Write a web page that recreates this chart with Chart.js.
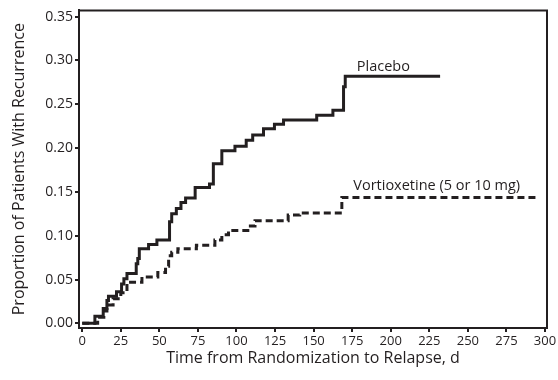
<!DOCTYPE html>
<html>
<head>
<meta charset="utf-8">
<script src="https://cdn.jsdelivr.net/npm/chart.js@4.4.0/dist/chart.umd.min.js"></script>
<style>
html, body { margin: 0; padding: 0; background: #fff; }
</style>
</head>
<body>
<canvas id="kmChart" width="558" height="380"></canvas>
<script>
// cumulative proportion with recurrence
var placeboDays = [0, 8.2, 13.6, 16, 17, 22.2, 25.5, 27, 29, 35, 36, 37, 43, 48.4, 56.6, 58, 61, 64, 67, 73.2, 82.5, 85, 90.5, 99, 106.3, 110.5, 117.5, 124.6, 130.5, 152, 162.5, 169.4, 170.5, 232];
var placeboRate = [0, 0.008, 0.017, 0.026, 0.031, 0.036, 0.045, 0.051, 0.057, 0.068, 0.074, 0.085, 0.09, 0.095, 0.116, 0.125, 0.131, 0.138, 0.143, 0.155, 0.159, 0.182, 0.197, 0.202, 0.209, 0.215, 0.222, 0.227, 0.232, 0.2375, 0.243, 0.27, 0.282, 0.282];

var vortioxetineDays = [0, 10, 14, 16, 20, 25, 29, 38.7, 49, 54, 56, 58, 62, 74, 86, 90.5, 94.8, 109, 112, 133.5, 141, 168.3, 295];
var vortioxetineRate = [0, 0.007, 0.014, 0.021, 0.028, 0.035, 0.047, 0.053, 0.058, 0.065, 0.077, 0.081, 0.085, 0.089, 0.095, 0.101, 0.106, 0.111, 0.117, 0.1235, 0.126, 0.1435, 0.1435];

var xTickValues = [0, 25, 50, 75, 100, 125, 150, 175, 200, 225, 250, 275, 300];
var yTickValues = [0, 0.05, 0.10, 0.15, 0.20, 0.25, 0.30, 0.35];

var placeboName = 'Placebo';
var vortioxetineName = 'Vortioxetine (5 or 10 mg)';

var inkColor = '#231f20';
var fontFamily = "'Open Sans', 'Noto Sans', sans-serif";

function toPoints(xs, ys) {
    return xs.map(function (x, i) { return { x: x, y: ys[i] }; });
}

// line labels placed in data coordinates, plus the top/right frame
var curveLabels = {
    id: 'curveLabels',
    afterDatasetsDraw: function (chart) {
        var ctx = chart.ctx;
        var xs = chart.scales.x, ys = chart.scales.y;
        ctx.save();
        ctx.fillStyle = inkColor;
        ctx.font = '14.5px ' + fontFamily;
        ctx.textAlign = 'left';
        ctx.textBaseline = 'alphabetic';
        ctx.fillText(placeboName, xs.getPixelForValue(178), ys.getPixelForValue(0.288));
        ctx.fillText(vortioxetineName, xs.getPixelForValue(175.7), ys.getPixelForValue(0.152));

        var a = chart.chartArea;
        ctx.strokeStyle = inkColor;
        ctx.lineWidth = 2;
        ctx.beginPath();
        ctx.moveTo(a.left, a.top);
        ctx.lineTo(a.right, a.top);
        ctx.lineTo(a.right, a.bottom);
        ctx.stroke();
        ctx.restore();
    }
};

var kmChart = new Chart(document.getElementById('kmChart'), {
    type: 'line',
    data: {
        datasets: [
            {
                label: placeboName,
                data: toPoints(placeboDays, placeboRate),
                borderColor: inkColor,
                borderWidth: 3,
                stepped: true,
                pointRadius: 0,
                fill: false
            },
            {
                label: vortioxetineName,
                data: toPoints(vortioxetineDays, vortioxetineRate),
                borderColor: inkColor,
                borderWidth: 3,
                borderDash: [7, 4],
                stepped: true,
                pointRadius: 0,
                fill: false
            }
        ]
    },
    options: {
        responsive: false,
        animation: false,
        layout: { padding: { top: 9, right: 11, left: 0, bottom: 12 } },
        plugins: {
            legend: { display: false },
            tooltip: { enabled: false }
        },
        scales: {
            x: {
                type: 'linear',
                min: -2.1,
                max: 301.3,
                afterBuildTicks: function (scale) {
                    scale.ticks = xTickValues.map(function (v) { return { value: v }; });
                },
                afterFit: function (scale) { scale.height = 40; },
                grid: { drawOnChartArea: false, drawTicks: true, tickLength: 4, color: inkColor, lineWidth: 2 },
                border: { display: true, color: inkColor, width: 2 },
                ticks: {
                    color: inkColor,
                    padding: 1,
                    maxRotation: 0,
                    font: { family: fontFamily, size: 13 },
                    callback: function (v) { return String(v); }
                },
                title: {
                    display: true,
                    text: 'Time from Randomization to Relapse, d',
                    color: inkColor,
                    padding: { top: 0, bottom: 0 },
                    font: { family: fontFamily, size: 16 }
                }
            },
            y: {
                type: 'linear',
                min: -0.0053,
                max: 0.357,
                afterBuildTicks: function (scale) {
                    scale.ticks = yTickValues.map(function (v) { return { value: v }; });
                },
                afterFit: function (scale) { scale.width = 79; },
                grid: { drawOnChartArea: false, drawTicks: true, tickLength: 4, color: inkColor, lineWidth: 2 },
                border: { display: true, color: inkColor, width: 2 },
                ticks: {
                    color: inkColor,
                    padding: 2,
                    font: { family: fontFamily, size: 14 },
                    callback: function (v) { return v.toFixed(2); }
                },
                title: {
                    display: true,
                    text: 'Proportion of Patients With Recurrence',
                    color: inkColor,
                    padding: { top: 10, bottom: 0 },
                    font: { family: fontFamily, size: 16 }
                }
            }
        }
    },
    plugins: [curveLabels]
});
</script>
</body>
</html>
